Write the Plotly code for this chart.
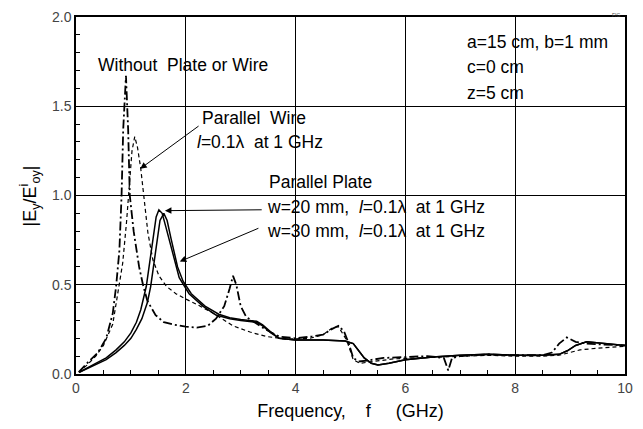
import plotly.graph_objects as go

# ---- data ----
f_without = [0.05, 0.2, 0.4, 0.55, 0.67, 0.73, 0.79, 0.83, 0.86, 0.91, 0.95, 0.98, 1.05, 1.15, 1.22,
             1.3, 1.45, 1.6, 1.8, 2.0, 2.2, 2.4, 2.55, 2.7, 2.8, 2.86, 2.92, 3.0, 3.1, 3.25, 3.45,
             3.7, 4.0, 4.3, 4.5, 4.65, 4.78, 4.88, 4.97, 5.05, 5.15, 5.3, 5.6, 6.0, 6.4, 6.7, 6.78,
             6.85, 7.0, 7.5, 8.0, 8.5, 8.67, 8.8, 8.94, 9.1, 9.3, 9.6, 10.0]
v_without = [0.01, 0.06, 0.12, 0.2, 0.34, 0.49, 0.69, 1.0, 1.37, 1.67, 1.37, 1.0, 0.8, 0.6, 0.5,
             0.41, 0.33, 0.29, 0.275, 0.265, 0.26, 0.27, 0.31, 0.38, 0.48, 0.55, 0.5, 0.38, 0.32, 0.29, 0.25,
             0.21, 0.2, 0.21, 0.22, 0.25, 0.27, 0.24, 0.17, 0.09, 0.07, 0.075, 0.09, 0.095, 0.1, 0.09, 0.02,
             0.09, 0.1, 0.11, 0.105, 0.105, 0.12, 0.17, 0.205, 0.18, 0.17, 0.165, 0.16]

f_wire = [0.05, 0.2, 0.36, 0.5, 0.67, 0.77, 0.85, 0.92, 0.97, 1.02, 1.07, 1.12, 1.18, 1.25, 1.31,
          1.4, 1.51, 1.65, 1.82, 2.0, 2.2, 2.5, 2.86, 3.17, 3.47, 3.84, 4.26, 4.5, 4.68, 4.78, 4.93,
          5.05, 5.17, 5.4, 5.8, 6.2, 6.6, 7.0, 7.5, 8.0, 8.5, 8.8, 9.0, 9.18, 9.5, 10.0]
v_wire = [0.01, 0.05, 0.1, 0.16, 0.28, 0.47, 0.62, 0.85, 1.05, 1.25, 1.33, 1.27, 1.15, 0.95, 0.79,
          0.64, 0.55, 0.49, 0.45, 0.42, 0.39, 0.34, 0.27, 0.235, 0.21, 0.195, 0.2, 0.22, 0.26, 0.265, 0.19,
          0.08, 0.06, 0.07, 0.085, 0.09, 0.095, 0.1, 0.105, 0.1, 0.1, 0.105, 0.12, 0.135, 0.145, 0.155]

f_w20 = [0.06, 0.2, 0.36, 0.55, 0.73, 0.88, 1.0, 1.1, 1.18, 1.28, 1.37, 1.46, 1.51, 1.57, 1.64,
         1.77, 1.88, 2.06, 2.31, 2.55, 2.8, 3.0, 3.29, 3.4, 3.55, 3.7, 4.0, 4.5, 4.9, 5.05, 5.15,
         5.25, 5.38, 5.5, 5.7, 6.0, 6.5, 7.0, 7.5, 8.0, 8.5, 8.8, 8.95, 9.1, 9.3, 9.6, 10.0]
v_w20 = [0.01, 0.035, 0.06, 0.09, 0.135, 0.18, 0.23, 0.29, 0.36, 0.49, 0.69, 0.88, 0.92, 0.9, 0.82,
         0.66, 0.54, 0.45, 0.38, 0.33, 0.31, 0.3, 0.29, 0.27, 0.23, 0.2, 0.19, 0.19, 0.185, 0.17, 0.13,
         0.09, 0.06, 0.05, 0.06, 0.08, 0.095, 0.105, 0.11, 0.105, 0.105, 0.11, 0.13, 0.16, 0.18, 0.17, 0.16]

f_w30 = [0.06, 0.2, 0.36, 0.55, 0.73, 0.88, 1.0, 1.1, 1.2, 1.3, 1.36, 1.45, 1.53, 1.6, 1.66,
         1.73, 1.85, 1.95, 2.1, 2.35, 2.6, 2.8, 3.0, 3.29, 3.4, 3.55, 3.7, 4.0, 4.5, 4.9, 5.05,
         5.15, 5.25, 5.38, 5.5, 5.7, 6.0, 6.5, 7.0, 7.5, 8.0, 8.5, 8.8, 8.95, 9.1, 9.3, 9.6, 10.0]
v_w30 = [0.01, 0.03, 0.055, 0.08, 0.12, 0.16, 0.2, 0.25, 0.31, 0.4, 0.49, 0.68, 0.86, 0.9, 0.86,
         0.76, 0.6, 0.52, 0.45, 0.38, 0.335, 0.315, 0.305, 0.295, 0.275, 0.235, 0.2, 0.19, 0.19, 0.185, 0.17,
         0.13, 0.09, 0.06, 0.05, 0.06, 0.08, 0.095, 0.105, 0.11, 0.105, 0.105, 0.11, 0.13, 0.16, 0.18, 0.17, 0.16]

x_ticks = [0, 2, 4, 6, 8, 10]
x_ticklabels = ["0", "2", "4", "6", "8", "10"]
y_ticks = [0.0, 0.5, 1.0, 1.5, 2.0]
y_ticklabels = ["0.0", "0.5", "1.0", "1.5", "2.0"]

FONT = "Liberation Sans, Arial, sans-serif"

fig = go.Figure()
fig.add_trace(go.Scatter(x=f_without, y=v_without, mode="lines",
                         line=dict(color="black", width=1.8, dash="9px,3px,2px,3px"),
                         name="Without Plate or Wire"))
fig.add_trace(go.Scatter(x=f_wire, y=v_wire, mode="lines",
                         line=dict(color="black", width=1.2, dash="4px,3px"),
                         name="Parallel Wire"))
fig.add_trace(go.Scatter(x=f_w20, y=v_w20, mode="lines",
                         line=dict(color="black", width=1.5), name="w=20 mm"))
fig.add_trace(go.Scatter(x=f_w30, y=v_w30, mode="lines",
                         line=dict(color="black", width=1.5), name="w=30 mm"))

ann_font = dict(family=FONT, size=17.5, color="black")
texts = [
    (1.94, 1.73, "Without\u00a0\u00a0Plate or Wire", "center"),
    (2.26, 1.434, "Parallel\u00a0\u00a0Wire", "left"),
    (2.17, 1.30, "<i>l</i>=0.1\u03bb\u00a0\u00a0at 1 GHz", "left"),
    (3.48, 1.076, "Parallel Plate", "left"),
    (3.44, 0.936, "w=20 mm,\u00a0\u00a0<i>l</i>=0.1\u03bb\u00a0\u00a0at 1 GHz", "left"),
    (3.44, 0.80, "w=30 mm,\u00a0\u00a0<i>l</i>=0.1\u03bb\u00a0\u00a0at 1 GHz", "left"),
    (7.09, 1.86, "a=15 cm, b=1 mm", "left"),
    (7.09, 1.72, "c=0 cm", "left"),
    (7.09, 1.574, "z=5 cm", "left"),
]
for x, y, t, anc in texts:
    fig.add_annotation(x=x, y=y, text=t, showarrow=False, xanchor=anc, yanchor="middle",
                       font=ann_font)

arrows = [
    ((2.26, 1.395), (1.17, 1.15)),
    ((3.41, 0.92), (1.62, 0.915)),
    ((3.35, 0.82), (1.89, 0.63)),
]
for (tx, ty), (hx, hy) in arrows:
    fig.add_annotation(x=hx, y=hy, ax=tx, ay=ty, xref="x", yref="y", axref="x", ayref="y",
                       text="", showarrow=True, arrowhead=2, arrowsize=1.3, arrowwidth=1,
                       arrowcolor="black")

fig.add_annotation(xref="paper", yref="paper", x=-0.084, y=0.5, textangle=-90,
                   xanchor="center", yanchor="middle",
                   text="|E<sub>y</sub>/E<sup>i</sup><sub>oy</sub>|", showarrow=False,
                   font=dict(family=FONT, size=18, color="black"))
fig.add_annotation(xref="paper", yref="paper", x=0.995, y=1.02, text="FIG",
                   showarrow=False, font=dict(family=FONT, size=5, color="#444"))

axis_common = dict(showline=True, linecolor="black", linewidth=1.5, mirror=True,
                   showgrid=True, gridcolor="black", gridwidth=1, zeroline=False,
                   ticks="inside", ticklen=6, tickcolor="black", automargin=False,
                   tickfont=dict(family=FONT, size=14, color="#444"))

fig.update_xaxes(range=[0, 10], tickvals=x_ticks, ticktext=x_ticklabels,
                 minor=dict(ticks="inside", dtick=0.5, ticklen=4, tickcolor="black", showgrid=False),
                 title=dict(text="Frequency,\u00a0\u00a0\u00a0\u00a0f\u00a0\u00a0\u00a0\u00a0\u00a0(GHz)",
                            font=dict(family=FONT, size=18, color="black"), standoff=10),
                 **axis_common)
fig.update_yaxes(range=[0, 2.0], tickvals=y_ticks, ticktext=y_ticklabels,
                 minor=dict(ticks="inside", dtick=0.1, ticklen=4, tickcolor="black", showgrid=False),
                 **axis_common)

# page body has an 8px default margin; sizes compensate so the plot area lands at the reference's spot
fig.update_layout(width=635, height=413, margin=dict(l=68, r=18, t=9, b=47),
                  plot_bgcolor="white", paper_bgcolor="white", showlegend=False,
                  font=dict(family=FONT))

fig.write_html("out.html")
